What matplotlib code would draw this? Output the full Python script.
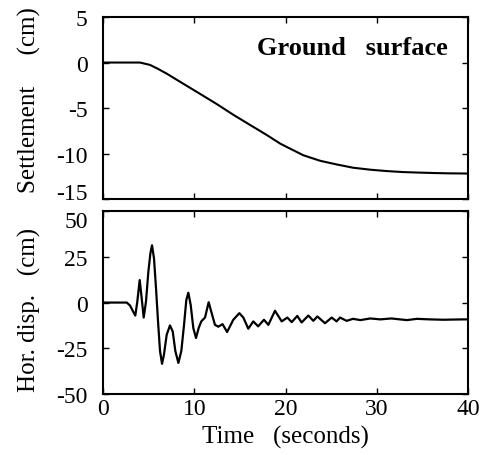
import numpy as np
import matplotlib
matplotlib.use('Agg')
import matplotlib.pyplot as plt

plt.rcParams['font.family'] = ['Liberation Serif', 'DejaVu Serif']
plt.rcParams['axes.unicode_minus'] = False

# settlement at ground surface (cm)
t_set = [0, 3.5, 4.05, 5.15, 6.0, 6.98, 8.8, 10.63, 12.46, 14.28, 16.1, 17.94,
         19.4, 20.1, 21.95, 23.8, 25.6, 27.4, 29.3, 31.1, 32.9, 34.7, 36.5, 38.0, 40]
settle = [0, 0, 0, -0.26, -0.68, -1.22, -2.33, -3.44, -4.56, -5.74, -6.85, -7.96,
          -8.9, -9.26, -10.19, -10.8, -11.2, -11.56, -11.78, -11.93, -12.04, -12.1,
          -12.15, -12.18, -12.2]

# horizontal displacement (cm)
t_hor = [0, 2.6, 2.96, 3.3, 3.54, 3.76, 4.02, 4.24, 4.46, 4.71, 4.97, 5.19, 5.37,
         5.59, 5.81, 6.03, 6.25, 6.47, 6.68, 6.98, 7.34, 7.64, 7.93, 8.26, 8.58,
         8.88, 9.13, 9.35, 9.61, 9.9, 10.19, 10.48, 10.77, 11.18, 11.58, 11.91,
         12.27, 12.64, 13.1, 13.6, 14.28, 14.94, 15.38, 15.92, 16.47, 17.0, 17.64,
         18.12, 18.85, 19.58, 20.2, 20.68, 21.29, 21.77, 22.5, 23.05, 23.49, 24.33,
         25.06, 25.6, 25.97, 26.7, 27.4, 28.2, 29.3, 30.4, 31.6, 33.3, 34.4, 35.8,
         37.3, 39.5, 40]
hor = [0, 0, -1.6, -4.9, -7.1, 0.5, 12.3, 2.3, -8.2, 0.5, 16.8, 26.8, 31.3, 24.1,
       7.8, -10.3, -26.6, -33.5, -28.5, -17.6, -12.5, -15.8, -26.6, -33.0, -26.6,
       -12.2, 1.4, 5.4, -1.3, -14.0, -19.4, -14.0, -10.3, -8.2, 0.2, -5.8, -12.2,
       -13.2, -11.8, -16.1, -9.4, -5.8, -8.2, -14.3, -10.3, -13.0, -9.4, -12.2, -4.5,
       -10.3, -8.2, -10.7, -7.3, -10.9, -7.1, -10.0, -7.6, -11.3, -8.2, -10.3, -8.2,
       -10.0, -8.9, -9.6, -8.7, -9.2, -8.7, -9.6, -8.9, -9.2, -9.4, -9.2, -9.2]

fig = plt.figure(figsize=(4.87, 4.56), dpi=100)
ax1 = fig.add_axes([0.2115, 0.5614, 0.7495, 0.399])
ax2 = fig.add_axes([0.2115, 0.1338, 0.7495, 0.401])

ax1.plot(t_set, settle, color='black', lw=1.5)
ax2.plot(t_hor, hor, color='black', lw=1.6, solid_joinstyle='round')

ax1.set_xlim(0, 40)
ax1.set_ylim(-15, 5)
ax1.set_yticks([5, 0, -5, -10, -15])
ax1.set_xticks([0, 10, 20, 30, 40])
ax1.set_xticklabels([])
ax1.text(0.944, 0.835, 'Ground   surface', transform=ax1.transAxes, ha='right',
         va='center', fontsize=19, fontweight='bold')
ax1.set_ylabel('Settlement     (cm)', fontsize=18)

ax2.set_xlim(0, 40)
ax2.set_ylim(-50, 50)
ax2.set_yticks([50, 25, 0, -25, -50])
ax2.set_xticks([0, 10, 20, 30, 40])
ax2.set_ylabel('Hor. disp.   (cm)', fontsize=18)
ax2.set_xlabel('Time   (seconds)', fontsize=18, labelpad=4)

for ax in (ax1, ax2):
    ax.tick_params(direction='in', top=True, right=True, labelsize=17,
                   length=4, width=1)
    ax.tick_params(axis='y', pad=11)
    ax.tick_params(axis='x', pad=3)
    for s in ax.spines.values():
        s.set_linewidth(1.5)

ax1.yaxis.set_label_coords(-0.169, 0.55)
ax2.yaxis.set_label_coords(-0.169, 0.464)

# keep neighbouring tick labels apart like the original
ax1.get_yticklabels()[-1].set_va('baseline')   # -15
ax2.get_yticklabels()[0].set_va('top')         # 50
ax2.get_yticklabels()[-1].set_va('center_baseline')  # -50

fig.savefig('out.png', dpi=100)
